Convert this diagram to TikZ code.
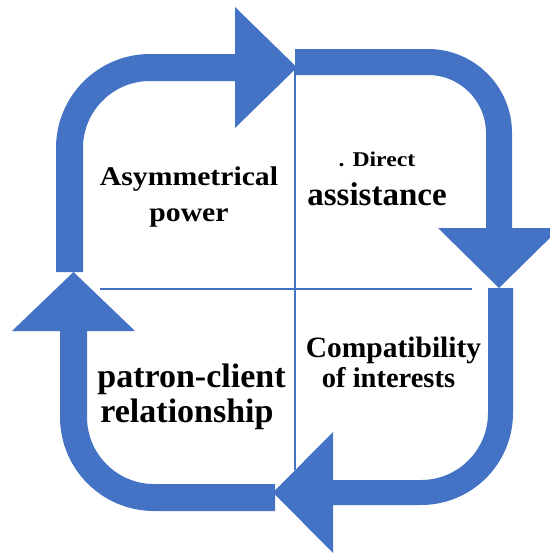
\documentclass[tikz,border=0pt]{standalone}
\usepackage{fontspec}
\setmainfont{Liberation Serif}[BoldFont={Liberation Serif Bold}]
\newfontfamily\tnrbold{Liberation Serif Bold}
\definecolor{arrowblue}{HTML}{4472C4}
\tikzset{
  bigarrow/.style={fill=arrowblue, draw=none},
  axisline/.style={draw=arrowblue, line width=1.1pt},
  lbl/.style={anchor=base, inner sep=0pt, font=\tnrbold},
}
\newcommand{\fs}[1]{\fontsize{#1}{#1}\selectfont}
\begin{document}
\begin{tikzpicture}[x=1pt, y=-1pt]
\useasboundingbox (0,0) rectangle (549,554);
% cross lines
\coordinate (vtop) at (295,67);
\coordinate (vbot) at (295,470);
\coordinate (hleft) at (100,289);
\coordinate (hright) at (472,289);
\draw[axisline] (vtop) -- (vbot);
\draw[axisline] (hleft) -- (hright);
% top-left arrow (up, then right)
\fill[bigarrow] (56,272) -- (56,148) arc[start angle=180, end angle=270, radius=94]
  -- (235,54) -- (235,7) -- (297,67.5) -- (235,128) -- (235,81) -- (150,81)
  arc[start angle=270, end angle=180, radius=67] -- (83,272) -- cycle;
% top-right arrow (right, then down)
\fill[bigarrow] (295,49) -- (428,49) arc[start angle=270, end angle=360, radius=84]
  -- (512,228) -- (560,228) -- (499,288) -- (438,228) -- (486,228) -- (486,133)
  arc[start angle=360, end angle=270, radius=58] -- (295,75) -- cycle;
% bottom-right arrow (down, then left)
\fill[bigarrow] (488,288) -- (513,288) -- (513,413) arc[start angle=0, end angle=90, radius=92]
  -- (333,505) -- (333,553) -- (273,492.5) -- (333,432) -- (333,480) -- (421,480)
  arc[start angle=90, end angle=0, radius=67] -- cycle;
% bottom-left arrow (left, then up)
\fill[bigarrow] (275,484) -- (154,484) arc[start angle=90, end angle=180, radius=67]
  -- (87,331) -- (135,331) -- (73.5,272) -- (12,331) -- (60,331) -- (60,417)
  arc[start angle=180, end angle=90, radius=94] -- (275,511) -- cycle;
% labels
\node[lbl] (asym1) at (189,185) {\fs{27}\scalebox{1.1}[1]{Asymmetrical}};
\node[lbl] (asym2) at (189,221) {\fs{27}\scalebox{1.1}[1]{power}};
\node[lbl] (dir1) at (377,166) {\fs{21}\scalebox{1.13}[1]{. Direct}};
\node[lbl] (dir2) at (377,205) {\fs{33}assistance};
\node[lbl] (pat1) at (191.5,387) {\fs{34}patron-client};
\node[lbl] (pat2) at (187,422) {\fs{34}relationship};
\node[lbl] (comp1) at (393.5,357) {\fs{29.5}Compatibility};
\node[lbl] (comp2) at (388.5,387) {\fs{28.5}of interests};
\end{tikzpicture}
\end{document}
